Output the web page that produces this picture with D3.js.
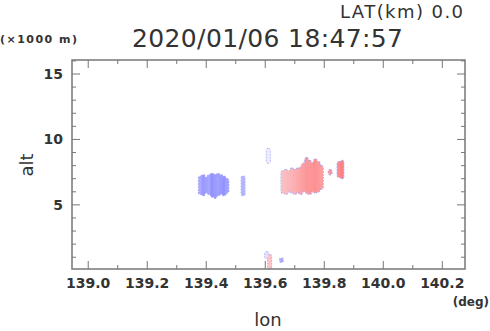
<!DOCTYPE html>
<html>
<head>
  <meta charset="UTF-8" />
  <title>Echo cross-section</title>
  <script src="https://d3js.org/d3.v7.min.js"></script>
  <style>
    body { margin: 0; background: #fff; }
    text { font-family: "DejaVu Sans", sans-serif; fill: #333; }
    .tick-label { font-weight: bold; font-size: 14px; }
    .frame { fill: none; stroke: #777; stroke-width: 1.5px; }
    .tick { stroke: #777; stroke-width: 1px; }
  </style>
</head>
<body>
  <svg id="chart" width="490" height="331"></svg>
  <script>
    // axis ticks
    const lonTicks = [139.0, 139.2, 139.4, 139.6, 139.8, 140.0, 140.2];
    const altTicks = [5, 10, 15];

    // echo columns: lon centre, bottom alt, top alt, value (-1 blue ... +1 red)
    const cellLon = [
      139.38, 139.39, 139.40, 139.41, 139.42, 139.43, 139.44, 139.45, 139.46, 139.47,
      139.525,
      139.66, 139.67, 139.68, 139.69, 139.70, 139.71, 139.72, 139.73, 139.74, 139.75,
      139.76, 139.77, 139.78, 139.79,
      139.82, 139.85, 139.86,
      139.61, 139.605, 139.615, 139.655
    ];
    const cellBottom = [
      5.8, 5.7, 5.9, 5.8, 5.6, 5.5, 5.7, 5.8, 5.7, 5.9,
      5.7,
      5.9, 5.8, 6.0, 5.9, 5.8, 5.9, 5.8, 6.0, 5.9, 5.8,
      6.0, 5.9, 6.0, 6.2,
      7.3, 7.1, 7.0,
      8.2, 0.9, 0.1, 0.6
    ];
    const cellTop = [
      7.2, 7.3, 7.1, 7.3, 7.4, 7.3, 7.4, 7.3, 7.2, 7.0,
      7.2,
      7.6, 7.7, 7.6, 7.8, 7.7, 7.8, 7.9, 8.2, 8.6, 8.4,
      8.2, 8.5, 8.3, 8.0,
      7.7, 8.3, 8.4,
      9.3, 1.4, 1.2, 0.95
    ];
    const cellValue = [
      -0.6, -0.75, -0.7, -0.65, -0.8, -0.75, -0.7, -0.75, -0.8, -0.7,
      -0.55,
      0.38, 0.4, 0.42, 0.45, 0.48, 0.52, 0.56, 0.6, 0.64, 0.64,
      0.66, 0.68, 0.64, 0.6,
      0.65, 0.72, 0.78,
      -0.1, -0.2, 0.35, -0.6
    ];

    const cells = cellLon.map((lon, i) => ({
      lon, bottom: cellBottom[i], top: cellTop[i], value: cellValue[i]
    }));

    const margin = { left: 72, right: 25, top: 60, bottom: 62 };
    const width = 490, height = 331;
    const svg = d3.select("#chart");

    const x = d3.scaleLinear().domain([138.945, 140.277]).range([margin.left, width - margin.right]);
    const y = d3.scaleLinear().domain([0.1, 16.07]).range([height - margin.bottom, margin.top]);
    const color = d3.scaleLinear().domain([-1, 0, 1]).range(["#7a7aff", "#f8f8ff", "#ff6060"]);

    const colW = x(139.012) - x(139.0);

    // outline pass (dotted bluish edge), then fills on top
    svg.append("g").selectAll("rect")
      .data(cells)
      .join("rect")
      .attr("x", d => x(d.lon) - colW / 2)
      .attr("y", d => y(d.top))
      .attr("width", colW)
      .attr("height", d => y(d.bottom) - y(d.top))
      .attr("rx", colW / 2)
      .attr("fill", "none")
      .attr("stroke", "#8c8cf0")
      .attr("stroke-opacity", 0.75)
      .attr("stroke-width", 1.3)
      .attr("stroke-dasharray", "2 1");

    svg.append("g").selectAll("rect")
      .data(cells)
      .join("rect")
      .attr("x", d => x(d.lon) - colW / 2)
      .attr("y", d => y(d.top))
      .attr("width", colW)
      .attr("height", d => y(d.bottom) - y(d.top))
      .attr("rx", colW / 2)
      .attr("fill", d => color(d.value));

    // frame
    const x0 = margin.left, x1 = width - margin.right;
    const y0 = margin.top, y1 = height - margin.bottom;
    svg.append("rect").attr("class", "frame")
      .attr("x", x0).attr("y", y0).attr("width", x1 - x0).attr("height", y1 - y0);

    // inward ticks on all four sides
    const lonMinor = d3.range(139.0, 140.25, 0.1);
    const altMinor = d3.range(1, 17, 1);
    const tg = svg.append("g");
    lonMinor.forEach(v => {
      const major = lonTicks.some(t => Math.abs(t - v) < 1e-6);
      const len = major ? 8 : 4;
      tg.append("line").attr("class", "tick").attr("x1", x(v)).attr("x2", x(v)).attr("y1", y0).attr("y2", y0 + len);
      tg.append("line").attr("class", "tick").attr("x1", x(v)).attr("x2", x(v)).attr("y1", y1).attr("y2", y1 - len);
    });
    altMinor.forEach(v => {
      if (y(v) < y0) return;
      const major = altTicks.includes(v);
      const len = major ? 8 : 4;
      tg.append("line").attr("class", "tick").attr("y1", y(v)).attr("y2", y(v)).attr("x1", x0).attr("x2", x0 + len);
      tg.append("line").attr("class", "tick").attr("y1", y(v)).attr("y2", y(v)).attr("x1", x1).attr("x2", x1 - len);
    });

    // tick labels
    svg.append("g").selectAll("text")
      .data(lonTicks)
      .join("text")
      .attr("class", "tick-label")
      .attr("x", d => x(d))
      .attr("y", 288)
      .attr("text-anchor", "middle")
      .text(d => d.toFixed(1));

    svg.append("g").selectAll("text")
      .data(altTicks)
      .join("text")
      .attr("class", "tick-label")
      .attr("x", 63)
      .attr("y", d => y(d) + 5)
      .attr("text-anchor", "end")
      .text(d => d);

    // titles and units
    svg.append("text").attr("x", 463).attr("y", 18).attr("text-anchor", "end")
      .attr("font-size", 18).attr("textLength", 123).text("LAT(km) 0.0");
    svg.append("text").attr("x", 132).attr("y", 47)
      .attr("font-size", 25).attr("textLength", 271).text("2020/01/06 18:47:57");
    svg.append("text").attr("x", 0).attr("y", 43)
      .attr("font-size", 11).attr("font-weight", "bold").attr("textLength", 77).text("(×1000 m)");
    svg.append("text").attr("x", 489).attr("y", 306).attr("text-anchor", "end")
      .attr("font-size", 12).attr("font-weight", "bold").text("(deg)");
    svg.append("text").attr("x", 268).attr("y", 326).attr("text-anchor", "middle")
      .attr("font-size", 18).text("lon");
    svg.append("text").attr("transform", "translate(33,165) rotate(-90)").attr("text-anchor", "middle")
      .attr("font-size", 18).text("alt");
  </script>
</body>
</html>
